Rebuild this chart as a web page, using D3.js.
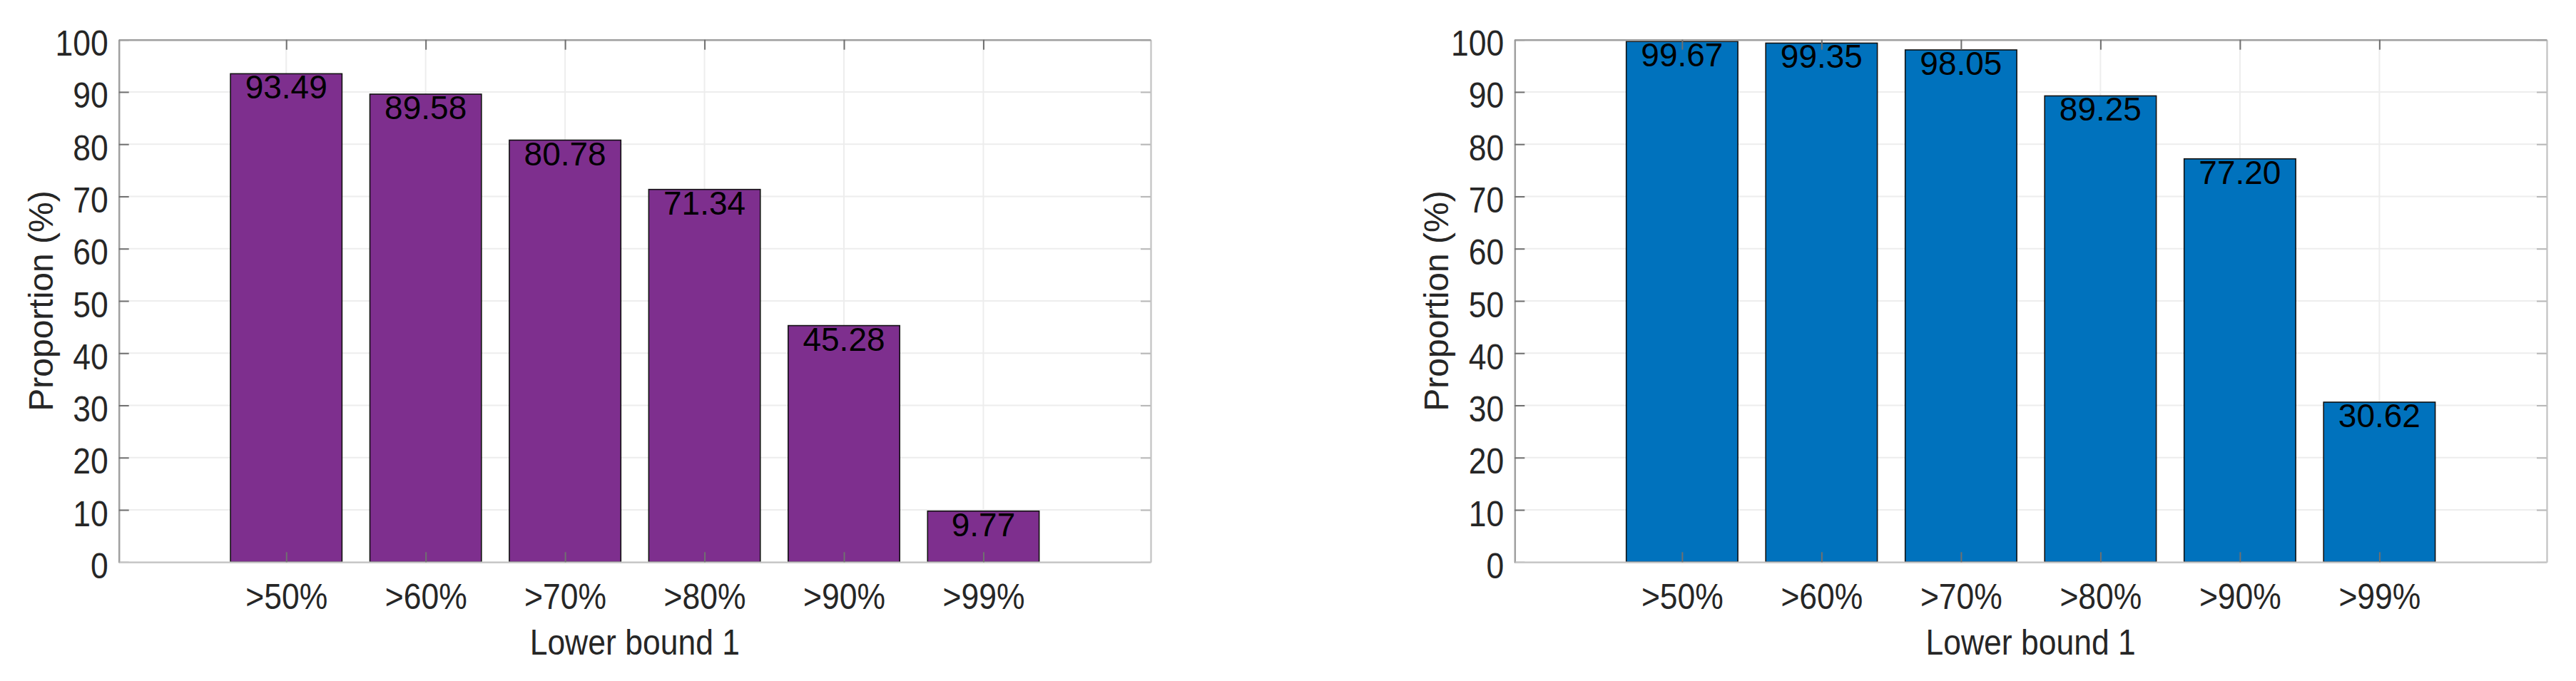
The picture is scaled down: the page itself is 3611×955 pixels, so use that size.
<!DOCTYPE html>
<html>
<head>
<meta charset="utf-8">
<script src="https://cdn.jsdelivr.net/npm/d3@7"></script>
<style>
  html, body { margin: 0; padding: 0; background: #fff; }
  svg { display: block; font-family: "Liberation Sans", Arial, Helvetica, sans-serif; }
</style>
</head>
<body>
<svg id="chart" width="3611" height="955"></svg>
<script>
// ---- data ----
const categories = [">50%", ">60%", ">70%", ">80%", ">90%", ">99%"];
const leftValues = [93.49, 89.58, 80.78, 71.34, 45.28, 9.77];
const rightValues = [99.67, 99.35, 98.05, 89.25, 77.20, 30.62];
const yTickValues = [0, 10, 20, 30, 40, 50, 60, 70, 80, 90, 100];
const xLabelText = "Lower bound 1";
const yLabelText = "Proportion (%)";

// ---- layout ----
const svg = d3.select("#chart");
const panels = [
  { values: leftValues,  color: "#7E2F8E", x0: 166.7,  x1: 1613 },
  { values: rightValues, color: "#0072BD", x0: 2123.3, x1: 3570 }
];
const yTop = 55.7, yBot = 788.3;
const tickLen = 14;
const textColor = "#262626";

panels.forEach(p => {
  const g = svg.append("g");
  const x = d3.scaleLinear().domain([-0.2, 7.2]).range([p.x0, p.x1]);
  const y = d3.scaleLinear().domain([0, 100]).range([yBot, yTop]);
  const catPos = categories.map((c, i) => i + 1);

  // grid
  const grid = g.append("g");
  grid.selectAll("line.gy").data(yTickValues).join("line")
    .attr("x1", p.x0).attr("x2", p.x1)
    .attr("y1", d => y(d)).attr("y2", d => y(d))
    .attr("stroke", "#ededed").attr("stroke-width", 2);
  grid.selectAll("line.gx").data(catPos).join("line")
    .attr("x1", d => x(d)).attr("x2", d => x(d))
    .attr("y1", yTop).attr("y2", yBot)
    .attr("stroke", "#ededed").attr("stroke-width", 2);

  // bars
  const bw = x(0.8) - x(0);
  g.append("g").selectAll("rect").data(p.values).join("rect")
    .attr("x", (d, i) => x(i + 1) - bw / 2)
    .attr("width", bw)
    .attr("y", d => y(d))
    .attr("height", d => y(0) - y(d))
    .attr("fill", p.color)
    .attr("stroke", "#111")
    .attr("stroke-width", 1.6);

  // bar value labels
  g.append("g").selectAll("text").data(p.values).join("text")
    .attr("x", (d, i) => x(i + 1))
    .attr("y", d => y(d) + 35)
    .attr("text-anchor", "middle")
    .attr("font-size", 46)
    .attr("fill", "#000")
    .text(d => d.toFixed(2));

  // axes (ticks inward on all four sides)
  const left = g.append("g").attr("transform", `translate(${p.x0},0)`)
    .call(d3.axisLeft(y).tickValues(yTickValues).tickSizeInner(-tickLen).tickSizeOuter(0).tickPadding(15));
  const right = g.append("g").attr("transform", `translate(${p.x1},0)`)
    .call(d3.axisRight(y).tickValues(yTickValues).tickSizeInner(-tickLen).tickSizeOuter(0).tickFormat(""));
  const bottom = g.append("g").attr("transform", `translate(0,${yBot})`)
    .call(d3.axisBottom(x).tickValues(catPos).tickFormat(i => categories[i - 1]).tickSizeInner(-tickLen).tickSizeOuter(0).tickPadding(30));
  const top = g.append("g").attr("transform", `translate(0,${yTop})`)
    .call(d3.axisTop(x).tickValues(catPos).tickSizeInner(-tickLen).tickSizeOuter(0).tickFormat(""));

  [left, top].forEach(a => {
    a.select(".domain").attr("stroke", "#a0a0a0").attr("stroke-width", 2.5);
    a.selectAll(".tick line").attr("stroke", "#707070").attr("stroke-width", 2);
  });
  [right, bottom].forEach(a => {
    a.select(".domain").attr("stroke", "#c8c8c8").attr("stroke-width", 2.5);
    a.selectAll(".tick line").attr("stroke", "#707070").attr("stroke-width", 2);
  });
  right.selectAll(".tick line").attr("stroke", "#b8b8b8");

  left.selectAll(".tick text")
    .attr("font-size", 50).attr("fill", textColor)
    .attr("font-family", "Liberation Sans, Arial, sans-serif")
    .attr("dy", "0.44em").classed("squeeze", true);
  bottom.selectAll(".tick text")
    .attr("font-size", 50).attr("fill", textColor)
    .attr("font-family", "Liberation Sans, Arial, sans-serif")
    .classed("squeeze", true);

  // axis titles
  g.append("text")
    .attr("x", (p.x0 + p.x1) / 2).attr("y", 918)
    .attr("text-anchor", "middle").attr("font-size", 50)
    .attr("fill", textColor).classed("squeeze", true)
    .text(xLabelText);
  g.append("text")
    .attr("transform", `translate(${p.x0 - 93},${(yTop + yBot) / 2}) rotate(-90)`)
    .attr("text-anchor", "middle").attr("font-size", 48)
    .attr("fill", textColor)
    .text(yLabelText);
});

// horizontal compression of axis text, as in the reference
svg.selectAll("text.squeeze").each(function () {
  const w = this.getComputedTextLength();
  d3.select(this).attr("textLength", w * 0.89).attr("lengthAdjust", "spacingAndGlyphs");
});
</script>
</body>
</html>
